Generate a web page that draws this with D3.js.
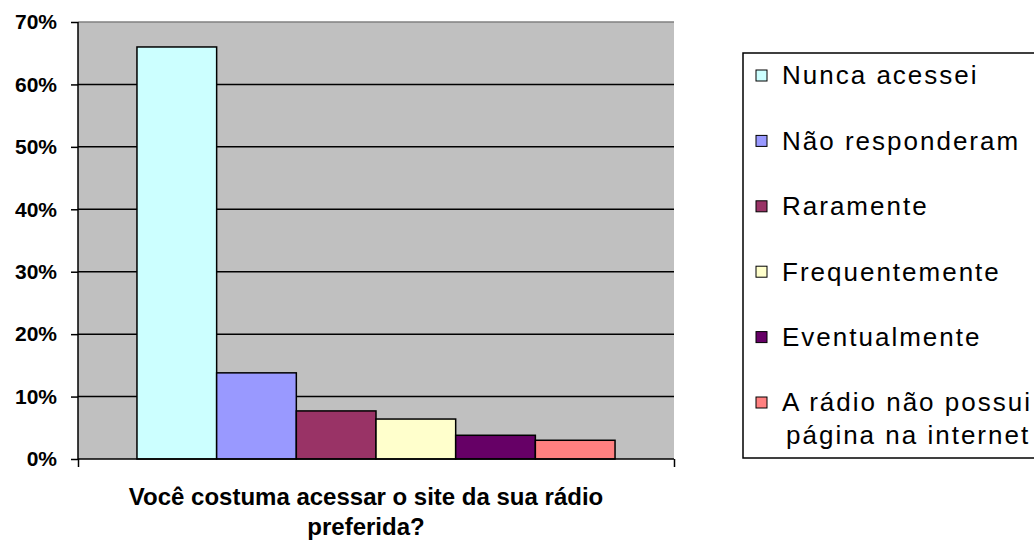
<!DOCTYPE html>
<html><head><meta charset="utf-8">
<script src="https://cdn.jsdelivr.net/npm/d3@7"></script>
<style>body{margin:0;background:#fff}svg{display:block}</style>
</head><body>
<script>
const categories = ["Nunca acessei","Não responderam","Raramente","Frequentemente","Eventualmente","A rádio não possui página na internet"];
const values = [66, 13.8, 7.7, 6.4, 3.8, 3.0];
const colors = ["#CCFFFF","#9999FF","#993366","#FFFFCC","#660066","#FF8080"];
const yTicks = [0,10,20,30,40,50,60,70];
const legendLines = [["Nunca acessei"],["Não responderam"],["Raramente"],["Frequentemente"],["Eventualmente"],["A rádio não possui","página na internet"]];
const xTitle = ["Você costuma acessar o site da sua rádio","preferida?"];

const W=1034,H=545;
const FONT="Arial, 'Liberation Sans', sans-serif";
const svg=d3.select("body").append("svg").attr("width",W).attr("height",H);
const plot={l:78,r:674,t:22,b:459};
const y=d3.scaleLinear().domain([0,70]).range([plot.b,plot.t]);
const x=d3.scaleBand().domain(categories).range([plot.l,plot.r]).paddingInner(0).paddingOuter(0.74);

svg.append("rect").attr("x",plot.l).attr("y",plot.t).attr("width",plot.r-plot.l).attr("height",plot.b-plot.t).attr("fill","#C0C0C0");

// gridlines
svg.append("g").selectAll("line").data(yTicks.filter(d=>d>0)).join("line")
  .attr("x1",plot.l).attr("x2",plot.r).attr("y1",d=>y(d)).attr("y2",d=>y(d))
  .attr("stroke",d=>d===70?"#808080":"#000").attr("stroke-width",1.5);

// bars
svg.append("g").selectAll("rect").data(values).join("rect")
  .attr("x",(d,i)=>x(categories[i])).attr("width",x.bandwidth())
  .attr("y",d=>y(d)).attr("height",d=>y(0)-y(d))
  .attr("fill",(d,i)=>colors[i]).attr("stroke","#000").attr("stroke-width",1.5);

// y axis
const ya=svg.append("g").attr("transform",`translate(${plot.l},0)`)
  .call(d3.axisLeft(y).tickValues(yTicks).tickFormat(d=>d+"%").tickSize(7).tickPadding(14));
ya.select(".domain").attr("stroke","#000").attr("stroke-width",1.5).attr("d",`M0,${plot.t}V${plot.b}`);
ya.selectAll(".tick line").attr("stroke","#000").attr("stroke-width",1.5);
ya.selectAll("text").attr("font-family",FONT).attr("font-weight","bold").attr("font-size",21).attr("fill","#000");

// x axis
const xa=d3.scaleLinear().domain([0,1]).range([plot.l,plot.r]);
const xg=svg.append("g").attr("transform",`translate(0,${plot.b})`)
  .call(d3.axisBottom(xa).tickValues([0,1]).tickSize(8).tickFormat(""));
xg.select(".domain").attr("stroke","#000").attr("stroke-width",1.5).attr("d",`M${plot.l},0H${plot.r}`);
xg.selectAll(".tick line").attr("stroke","#000").attr("stroke-width",1.5);

const tx=366;
svg.append("text").attr("x",tx).attr("y",505)
  .attr("text-anchor","middle").attr("font-family",FONT).attr("font-weight","bold").attr("font-size",24).attr("fill","#000")
  .selectAll("tspan").data(xTitle).join("tspan").attr("x",tx).attr("dy",(d,i)=>i?30:0).text(d=>d);

// legend
const lg=svg.append("g");
lg.append("rect").attr("x",743).attr("y",53).attr("width",300).attr("height",405).attr("fill","#fff").attr("stroke","#000").attr("stroke-width",1.5);
const rowY=d3.scaleLinear().domain([0,5]).range([75,402]);
const it=lg.selectAll("g.it").data(legendLines).join("g").attr("class","it").attr("transform",(d,i)=>`translate(0,${rowY(i)})`);
it.append("rect").attr("x",756).attr("y",-5).attr("width",11).attr("height",11).attr("fill",(d,i)=>colors[i]).attr("stroke","#000").attr("stroke-width",1);
it.append("text").attr("font-family",FONT).attr("font-size",26).attr("letter-spacing",2).attr("fill","#000")
  .selectAll("tspan").data(d=>d).join("tspan").attr("x",(d,i)=>i?786:782).attr("y",(d,i)=>i*33).attr("dy","0.36em").text(d=>d);
</script>
</body></html>
